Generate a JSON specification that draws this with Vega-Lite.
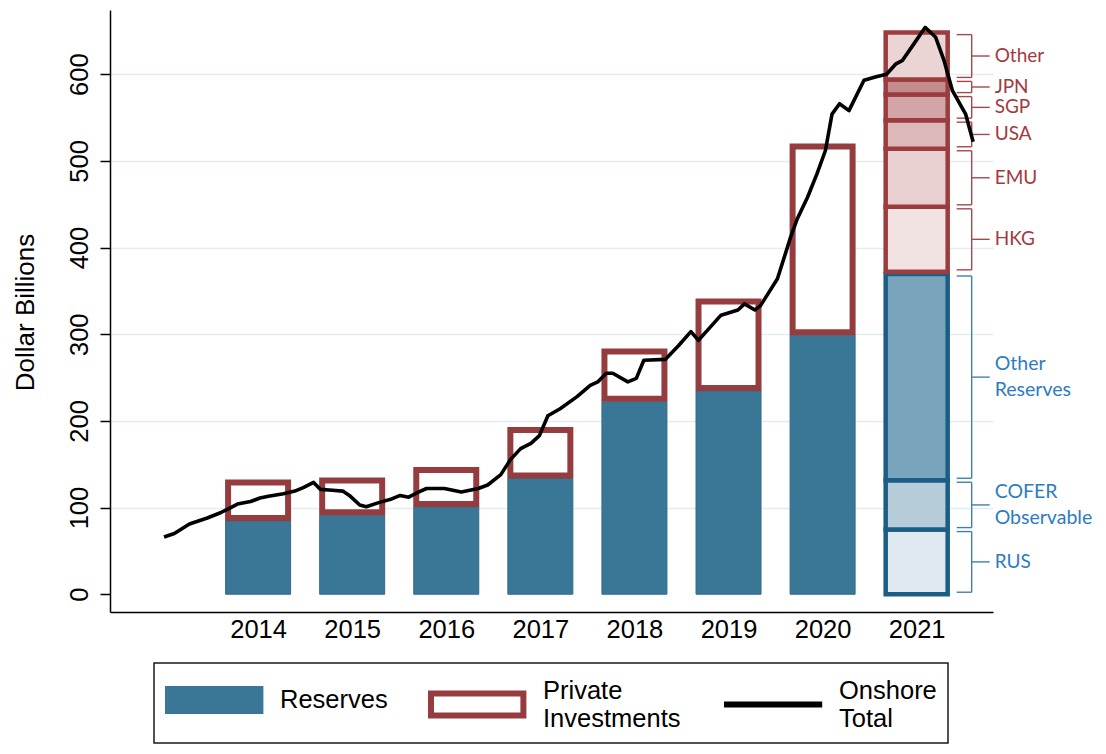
{
  "$schema": "https://vega.github.io/schema/vega-lite/v6.json",
  "autosize": {"type": "none"},
  "padding": {"left": 110, "top": 10, "right": 113, "bottom": 142},
  "width": 883,
  "height": 602,
  "background": "white",
  "config": {
    "view": {"stroke": null},
    "font": "Liberation Sans",
    "axis": {
      "labelFont": "Liberation Sans", "labelFontSize": 25.5, "labelColor": "#000",
      "domainColor": "#000", "domainWidth": 1.5, "tickColor": "#000", "tickWidth": 1.5,
      "titleFont": "Liberation Sans", "titleFontSize": 26, "titleFontWeight": "normal", "titleColor": "#000"
    },
    "axisX": {"ticks": false, "tickSize": 0, "grid": false, "labelPadding": 5, "labelFlush": false, "labelOverlap": false},
    "axisY": {
      "tickSize": 10, "labelAngle": 270, "labelAlign": "center", "labelBaseline": "alphabetic", "labelPadding": 13,
      "gridWidth": 1.5, "titleAngle": 270, "titleX": -77, "titleY": 302, "titleBaseline": "alphabetic", "titleAlign": "center"
    },
    "legend": {"strokeWidth": 1.5}
  },
  "datasets": {
    "bars": [
      {"year": 2014, "reserves": 84.6, "total": 132.3},
      {"year": 2015, "reserves": 91.2, "total": 134.6},
      {"year": 2016, "reserves": 100.7, "total": 146.9},
      {"year": 2017, "reserves": 133.5, "total": 193},
      {"year": 2018, "reserves": 222, "total": 283.5},
      {"year": 2019, "reserves": 234.6, "total": 341.2},
      {"year": 2020, "reserves": 298.8, "total": 520}
    ],
    "seg": [
      {"year": 2021, "group": "Reserves", "seg": "RUS", "lo": 0, "hi": 74.6},
      {"year": 2021, "group": "Reserves", "seg": "COFER Observable", "lo": 74.6, "hi": 131.5},
      {"year": 2021, "group": "Reserves", "seg": "Other Reserves", "lo": 131.5, "hi": 369.5},
      {"year": 2021, "group": "Private", "seg": "HKG", "lo": 372, "hi": 447},
      {"year": 2021, "group": "Private", "seg": "EMU", "lo": 447, "hi": 514},
      {"year": 2021, "group": "Private", "seg": "USA", "lo": 514, "hi": 547},
      {"year": 2021, "group": "Private", "seg": "SGP", "lo": 547, "hi": 576.5},
      {"year": 2021, "group": "Private", "seg": "JPN", "lo": 576.5, "hi": 594},
      {"year": 2021, "group": "Private", "seg": "Other", "lo": 594, "hi": 648}
    ],
    "onshore": [
      {"year": 2013.0, "value": 66}, {"year": 2013.11, "value": 70}, {"year": 2013.27, "value": 81},
      {"year": 2013.46, "value": 88}, {"year": 2013.6, "value": 94}, {"year": 2013.71, "value": 100},
      {"year": 2013.78, "value": 104}, {"year": 2013.92, "value": 107}, {"year": 2014.02, "value": 111},
      {"year": 2014.11, "value": 113}, {"year": 2014.27, "value": 116}, {"year": 2014.39, "value": 119},
      {"year": 2014.48, "value": 123}, {"year": 2014.59, "value": 129}, {"year": 2014.66, "value": 121},
      {"year": 2014.79, "value": 120}, {"year": 2014.9, "value": 119}, {"year": 2014.97, "value": 114},
      {"year": 2015.08, "value": 103}, {"year": 2015.15, "value": 101}, {"year": 2015.29, "value": 106},
      {"year": 2015.42, "value": 110}, {"year": 2015.51, "value": 114}, {"year": 2015.6, "value": 112},
      {"year": 2015.71, "value": 118}, {"year": 2015.79, "value": 122}, {"year": 2015.98, "value": 122},
      {"year": 2016.16, "value": 118}, {"year": 2016.34, "value": 122}, {"year": 2016.44, "value": 126},
      {"year": 2016.58, "value": 138}, {"year": 2016.68, "value": 155}, {"year": 2016.79, "value": 168},
      {"year": 2016.9, "value": 174}, {"year": 2016.99, "value": 183}, {"year": 2017.08, "value": 206},
      {"year": 2017.21, "value": 214}, {"year": 2017.39, "value": 228}, {"year": 2017.53, "value": 241},
      {"year": 2017.61, "value": 245}, {"year": 2017.7, "value": 255}, {"year": 2017.77, "value": 255},
      {"year": 2017.93, "value": 245}, {"year": 2018.02, "value": 249}, {"year": 2018.1, "value": 270},
      {"year": 2018.33, "value": 271}, {"year": 2018.47, "value": 287}, {"year": 2018.6, "value": 303},
      {"year": 2018.68, "value": 293}, {"year": 2018.78, "value": 305}, {"year": 2018.92, "value": 322},
      {"year": 2019.1, "value": 328}, {"year": 2019.17, "value": 335}, {"year": 2019.28, "value": 328},
      {"year": 2019.34, "value": 333}, {"year": 2019.52, "value": 364}, {"year": 2019.66, "value": 412},
      {"year": 2019.73, "value": 433}, {"year": 2019.84, "value": 458}, {"year": 2019.94, "value": 485},
      {"year": 2020.03, "value": 512}, {"year": 2020.1, "value": 554}, {"year": 2020.18, "value": 566},
      {"year": 2020.28, "value": 558}, {"year": 2020.44, "value": 593}, {"year": 2020.57, "value": 597},
      {"year": 2020.68, "value": 600}, {"year": 2020.78, "value": 612}, {"year": 2020.85, "value": 616},
      {"year": 2020.97, "value": 635}, {"year": 2021.09, "value": 654}, {"year": 2021.2, "value": 643},
      {"year": 2021.29, "value": 616}, {"year": 2021.38, "value": 581}, {"year": 2021.52, "value": 554},
      {"year": 2021.6, "value": 522}
    ],
    "keys": [
      {"series": "Reserves"},
      {"series": "Private Investments"},
      {"series": "Onshore Total"}
    ]
  },
  "layer": [
    {
      "data": {"name": "bars"},
      "mark": {"type": "bar", "width": 65, "fill": "#3a7797", "stroke": "#2f6b8c", "strokeWidth": 1},
      "encoding": {
        "x": {
          "field": "year", "type": "quantitative",
          "scale": {"domain": [2012.479, 2021.758], "nice": false, "zero": false},
          "axis": {"values": [2014, 2015, 2016, 2017, 2018, 2019, 2020, 2021], "format": "d", "title": null}
        },
        "y": {
          "field": "reserves", "type": "quantitative",
          "scale": {"domain": [-20.5, 674.1], "nice": false, "zero": false},
          "axis": {
            "values": [0, 100, 200, 300, 400, 500, 600], "title": "Dollar Billions", "grid": true,
            "gridColor": {"condition": {"test": "datum.value === 0", "value": "transparent"}, "value": "#e2ecf1"}
          }
        },
        "y2": {"datum": 0}
      }
    },
    {
      "data": {"name": "bars"},
      "mark": {"type": "bar", "width": 60, "fill": "white", "stroke": "#963c3e", "strokeWidth": 6, "yOffset": 3, "y2Offset": -3},
      "encoding": {
        "x": {"field": "year", "type": "quantitative", "scale": {"domain": [2012.479, 2021.758], "nice": false, "zero": false}},
        "y": {"field": "total", "type": "quantitative", "scale": {"domain": [-20.5, 674.1], "nice": false, "zero": false}},
        "y2": {"field": "reserves"}
      }
    },
    {
      "data": {"name": "seg"},
      "mark": {"type": "bar", "width": 62, "strokeWidth": 4.5},
      "encoding": {
        "x": {"field": "year", "type": "quantitative", "scale": {"domain": [2012.479, 2021.758], "nice": false, "zero": false}},
        "y": {"field": "hi", "type": "quantitative", "scale": {"domain": [-20.5, 674.1], "nice": false, "zero": false}},
        "y2": {"field": "lo"},
        "fill": {
          "field": "seg", "type": "nominal", "legend": null,
          "scale": {
            "domain": ["RUS", "COFER Observable", "Other Reserves", "HKG", "EMU", "USA", "SGP", "JPN", "Other"],
            "range": ["#dee8ee", "#b6ccd8", "#79a5bc", "#f2e3e3", "#e9d0d0", "#dcb8b8", "#d2a6a6", "#c48c8c", "#ead4d4"]
          }
        },
        "stroke": {"condition": {"test": "datum.group === 'Reserves'", "value": "#1c5d86"}, "value": "#9b3c3f"}
      }
    },
    {
      "data": {"name": "seg"},
      "mark": {"type": "rule", "xOffset": 55, "yOffset": 2, "y2Offset": -2, "strokeWidth": 1.4},
      "encoding": {
        "x": {"field": "year", "type": "quantitative", "scale": {"domain": [2012.479, 2021.758], "nice": false, "zero": false}},
        "y": {"field": "hi", "type": "quantitative", "scale": {"domain": [-20.5, 674.1], "nice": false, "zero": false}},
        "y2": {"field": "lo"},
        "color": {"condition": {"test": "datum.group === 'Reserves'", "value": "#3f80b4"}, "value": "#a5484b"}
      }
    },
    {
      "data": {"name": "seg"},
      "mark": {"type": "rule", "xOffset": 40, "x2Offset": 55, "yOffset": 2, "strokeWidth": 1.4},
      "encoding": {
        "x": {"field": "year", "type": "quantitative", "scale": {"domain": [2012.479, 2021.758], "nice": false, "zero": false}},
        "x2": {"field": "year"},
        "y": {"field": "hi", "type": "quantitative", "scale": {"domain": [-20.5, 674.1], "nice": false, "zero": false}},
        "color": {"condition": {"test": "datum.group === 'Reserves'", "value": "#3f80b4"}, "value": "#a5484b"}
      }
    },
    {
      "data": {"name": "seg"},
      "mark": {"type": "rule", "xOffset": 40, "x2Offset": 55, "yOffset": -2, "strokeWidth": 1.4},
      "encoding": {
        "x": {"field": "year", "type": "quantitative", "scale": {"domain": [2012.479, 2021.758], "nice": false, "zero": false}},
        "x2": {"field": "year"},
        "y": {"field": "lo", "type": "quantitative", "scale": {"domain": [-20.5, 674.1], "nice": false, "zero": false}},
        "color": {"condition": {"test": "datum.group === 'Reserves'", "value": "#3f80b4"}, "value": "#a5484b"}
      }
    },
    {
      "data": {"name": "seg"},
      "transform": [{"calculate": "(datum.lo + datum.hi) / 2", "as": "mid"}],
      "mark": {"type": "rule", "xOffset": 55, "x2Offset": 73, "strokeWidth": 1.4},
      "encoding": {
        "x": {"field": "year", "type": "quantitative", "scale": {"domain": [2012.479, 2021.758], "nice": false, "zero": false}},
        "x2": {"field": "year"},
        "y": {"field": "mid", "type": "quantitative", "scale": {"domain": [-20.5, 674.1], "nice": false, "zero": false}},
        "color": {"condition": {"test": "datum.group === 'Reserves'", "value": "#3f80b4"}, "value": "#a5484b"}
      }
    },
    {
      "data": {"name": "seg"},
      "transform": [
        {"filter": "indexof(datum.seg, ' ') < 0"},
        {"calculate": "(datum.lo + datum.hi) / 2", "as": "mid"}
      ],
      "mark": {"type": "text", "dx": 78, "align": "left", "baseline": "middle", "font": "Lato", "fontSize": 19},
      "encoding": {
        "x": {"field": "year", "type": "quantitative", "scale": {"domain": [2012.479, 2021.758], "nice": false, "zero": false}},
        "y": {"field": "mid", "type": "quantitative", "scale": {"domain": [-20.5, 674.1], "nice": false, "zero": false}},
        "text": {"field": "seg"},
        "color": {"condition": {"test": "datum.group === 'Reserves'", "value": "#2e7cc0"}, "value": "#a33a3e"}
      }
    },
    {
      "data": {"name": "seg"},
      "transform": [
        {"filter": "indexof(datum.seg, ' ') >= 0"},
        {"calculate": "(datum.lo + datum.hi) / 2", "as": "mid"}
      ],
      "mark": {"type": "text", "dx": 78, "dy": -13, "align": "left", "baseline": "middle", "font": "Lato", "fontSize": 19.5, "lineBreak": " ", "lineHeight": 26},
      "encoding": {
        "x": {"field": "year", "type": "quantitative", "scale": {"domain": [2012.479, 2021.758], "nice": false, "zero": false}},
        "y": {"field": "mid", "type": "quantitative", "scale": {"domain": [-20.5, 674.1], "nice": false, "zero": false}},
        "text": {"field": "seg"},
        "color": {"condition": {"test": "datum.group === 'Reserves'", "value": "#2e7cc0"}, "value": "#a33a3e"}
      }
    },
    {
      "data": {"name": "onshore"},
      "mark": {"type": "line", "color": "#000", "strokeWidth": 3.6, "strokeJoin": "round"},
      "encoding": {
        "x": {"field": "year", "type": "quantitative", "scale": {"domain": [2012.479, 2021.758], "nice": false, "zero": false}},
        "y": {"field": "value", "type": "quantitative", "scale": {"domain": [-20.5, 674.1], "nice": false, "zero": false}}
      }
    },
    {
      "data": {"name": "keys"},
      "mark": {"type": "point", "opacity": 0},
      "encoding": {
        "color": {
          "field": "series", "type": "nominal",
          "scale": {"domain": ["Reserves", "Private Investments", "Onshore Total"], "range": ["#3a7797", "#963c3e", "#000000"]},
          "legend": {
            "title": null, "orient": "none", "legendX": 44, "legendY": 653, "direction": "horizontal",
            "labelFont": "Liberation Sans", "labelFontSize": 25.5, "labelColor": "#000", "labelLimit": 400,
            "labelOffset": 81, "columnPadding": 31, "padding": 11, "strokeColor": "#1a1a1a",
            "symbolSize": 784, "symbolStrokeWidth": 6, "symbolOpacity": 1,
            "symbolType": {"expr": "datum.value === 'Reserves' ? 'M-1,-0.786H5.6V0.786H-1ZM-1,-0.357H5.6M-1,0.071H5.6M-1,0.5H5.6' : datum.value === 'Private Investments' ? 'M-1,0.178H5.6V1.75H-1Z' : 'M-1.214,0.964H5.8'"},
            "labelExpr": "split(datum.label, ' ')"
          }
        }
      }
    }
  ]
}
